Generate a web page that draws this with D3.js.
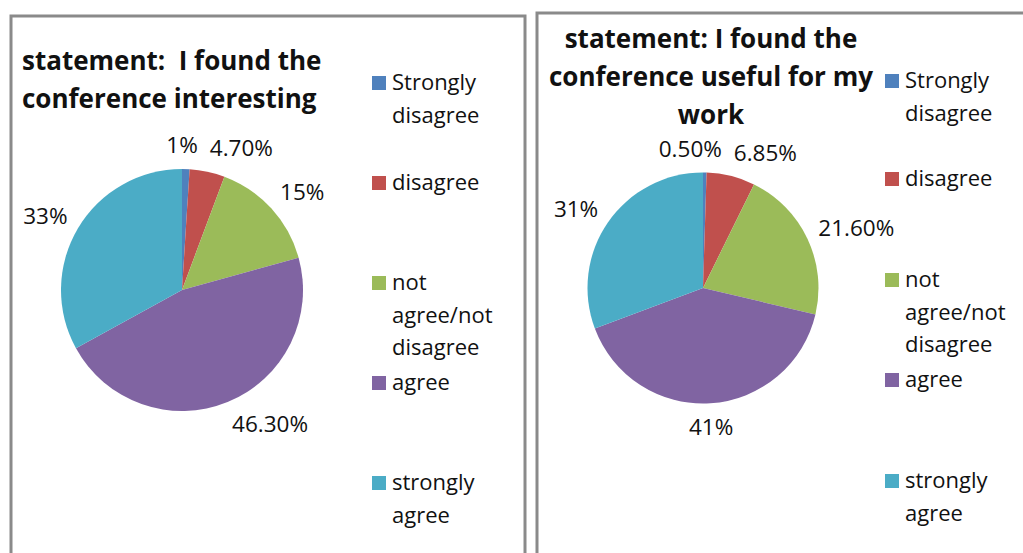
<!DOCTYPE html>
<meta charset="utf-8">
<head>
<style>
  body { margin: 0; background: #fff; }
  svg text { font-family: 'Open Sans', sans-serif; fill: #111; }
  .title { font-weight: bold; font-size: 26px; white-space: pre; }
  .lbl { font-size: 22.5px; }
  .leg { font-size: 22px; }
</style>
</head>
<body>
<div id="chart"></div>
<script src="https://cdn.jsdelivr.net/npm/d3@7"></script>
<script>

// categories, colours and values
var categories = ["Strongly disagree", "disagree", "not agree/not disagree", "agree", "strongly agree"];
var legendLines = [["Strongly", "disagree"], ["disagree"], ["not", "agree/not", "disagree"], ["agree"], ["strongly", "agree"]];
var colors = ["#4F81BD", "#C0504D", "#9BBB59", "#8064A2", "#4BACC6"];

var interestingValues = [1, 4.7, 15, 46.3, 33];
var interestingLabels = ["1%", "4.70%", "15%", "46.30%", "33%"];
var usefulValues = [0.5, 6.85, 21.6, 41, 31];
var usefulLabels = ["0.50%", "6.85%", "21.60%", "41%", "31%"];

var interestingTitle = ["statement:  I found the", "conference interesting"];
var usefulTitle = ["statement: I found the", "conference useful for my", "work"];

var svg = d3.select("#chart").append("svg")
  .attr("width", 1023)
  .attr("height", 553);

var color = d3.scaleOrdinal().domain(categories).range(colors);

function drawPanel(opt) {
  var g = svg.append("g");

  // panel frame (runs off the bottom / right like the screenshot)
  g.append("rect")
    .attr("x", opt.box[0]).attr("y", opt.box[1])
    .attr("width", opt.box[2]).attr("height", opt.box[3])
    .attr("fill", "none")
    .attr("stroke", "#8a8a8a")
    .attr("stroke-width", 3);

  // title
  g.selectAll(".title").data(opt.title).enter()
    .append("text")
      .attr("class", "title")
      .attr("x", opt.titleX)
      .attr("y", function(d, i) { return opt.titleY + i * opt.titleStep; })
      .attr("text-anchor", opt.titleAnchor)
      .text(function(d) { return d; });

  var data = categories.map(function(c, i) { return {cat: c, value: opt.values[i], label: opt.labels[i]}; });

  var pie = d3.pie().sort(null).value(function(d) { return d.value; });
  var arc = d3.arc().innerRadius(0).outerRadius(opt.r);
  var arcs = pie(data);

  var pg = g.append("g").attr("transform", "translate(" + opt.cx + "," + opt.cy + ")");

  pg.selectAll("path").data(arcs).enter()
    .append("path")
      .attr("d", arc)
      .attr("fill", function(d) { return color(d.data.cat); });

  // outside-end labels
  var lr = opt.r + 12;
  var texts = pg.selectAll(".lbl").data(arcs).enter()
    .append("text")
      .attr("class", "lbl")
      .each(function(d) {
        var a = (d.startAngle + d.endAngle) / 2;
        var s = Math.sin(a), c = Math.cos(a);
        d3.select(this)
          .attr("x", s * lr)
          .attr("y", -c * lr + 8 - 12 * c)
          .attr("text-anchor", s > 0.15 ? "start" : (s < -0.15 ? "end" : "middle"));
      })
      .text(function(d) { return d.data.label; });

  // push a label left when it runs into the next one
  var nodes = texts.nodes();
  for (var i = nodes.length - 2; i >= 0; i--) {
    var b1 = nodes[i].getBBox(), b2 = nodes[i + 1].getBBox();
    var overlapY = b1.y < b2.y + b2.height && b2.y < b1.y + b1.height;
    if (overlapY && b1.x + b1.width > b2.x - 12) {
      var shift = b1.x + b1.width - (b2.x - 12);
      d3.select(nodes[i]).attr("x", +d3.select(nodes[i]).attr("x") - shift);
    }
  }

  // legend
  var lg = g.append("g").attr("transform", "translate(" + opt.legX + ",0)");
  var item = lg.selectAll(".item").data(categories).enter()
    .append("g").attr("class", "item");
  item.append("rect")
    .attr("x", 0)
    .attr("y", function(d, i) { return opt.legY[i] - 14; })
    .attr("width", 14).attr("height", 14)
    .attr("fill", function(d) { return color(d); });
  item.each(function(d, i) {
    d3.select(this).selectAll("text").data(legendLines[i]).enter()
      .append("text")
        .attr("class", "leg")
        .attr("x", 20)
        .attr("y", function(t, j) { return opt.legY[i] + j * 32.5; })
        .text(function(t) { return t; });
  });
}

drawPanel({
  box: [11, 16, 514, 560],
  title: interestingTitle, titleX: 22, titleY: 70, titleStep: 38, titleAnchor: "start",
  values: interestingValues, labels: interestingLabels,
  cx: 182, cy: 290, r: 121,
  legX: 372, legY: [90, 190, 290, 390, 490]
});

drawPanel({
  box: [537, 13, 500, 560],
  title: usefulTitle, titleX: 711, titleY: 48, titleStep: 38, titleAnchor: "middle",
  values: usefulValues, labels: usefulLabels,
  cx: 703, cy: 288, r: 115.5,
  legX: 885, legY: [88, 186, 287, 387, 488]
});

</script>
</body>
